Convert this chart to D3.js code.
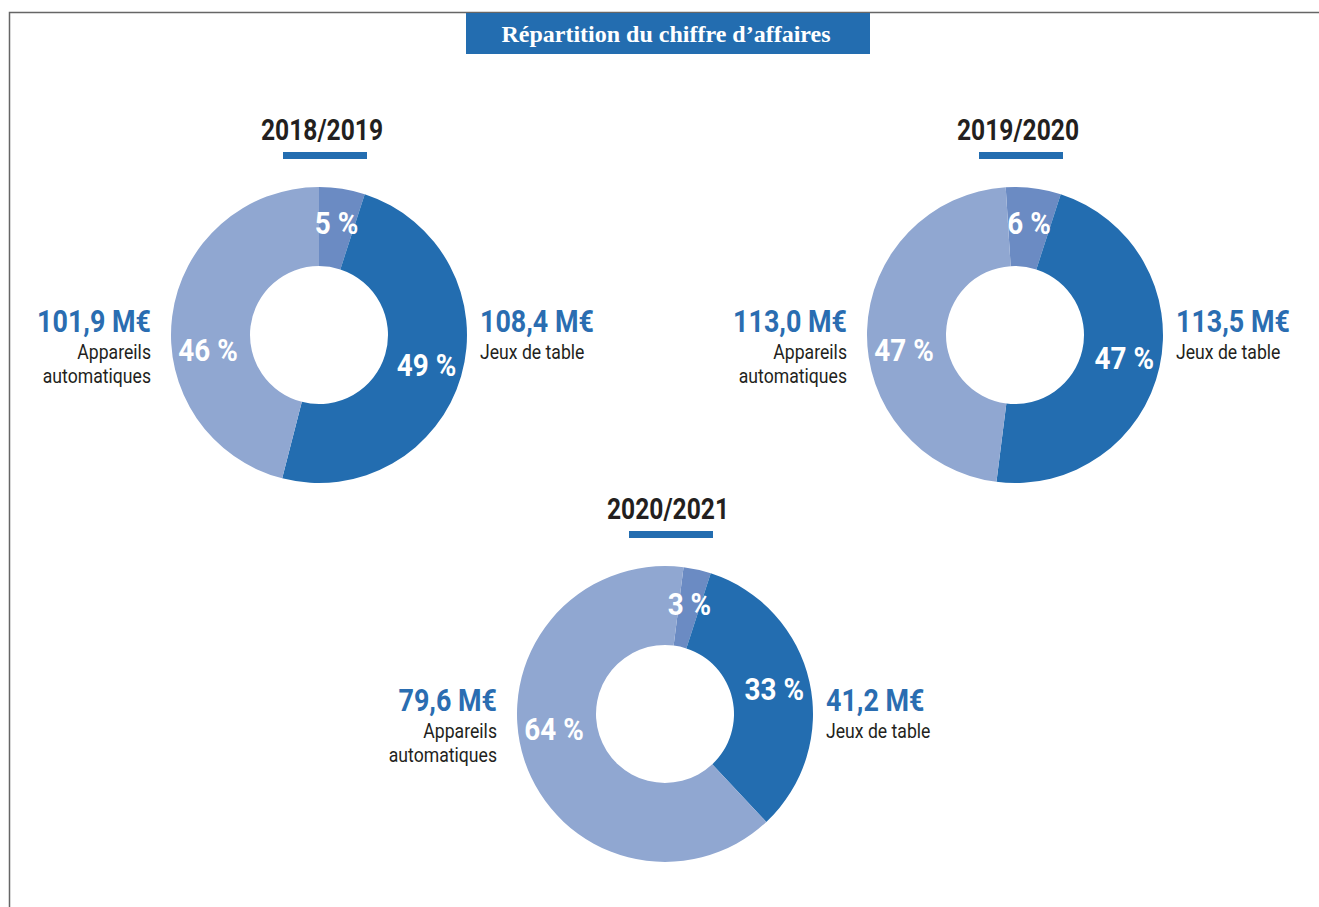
<!DOCTYPE html>
<html>
<head>
<meta charset="utf-8">
<script src="https://cdnjs.cloudflare.com/ajax/libs/d3/7.8.5/d3.min.js"></script>
<style>
  body { margin: 0; background: #fff; }
  .narrow { font-family: "Liberation Sans Narrow", "Roboto", sans-serif; }
</style>
</head>
<body>
<div id="chart"></div>
<script>
// Données
var annees = ["2018/2019", "2019/2020", "2020/2021"];
var pctAutres = [5, 6, 3];
var pctJeux = [49, 47, 33];
var pctAppareils = [46, 47, 64];
var caJeux = ["108,4 M€", "113,5 M€", "41,2 M€"];
var caAppareils = ["101,9 M€", "113,0 M€", "79,6 M€"];
var categories = ["Autres", "Jeux de table", "Appareils automatiques"];

var couleurs = {"Autres": "#6b8bc3", "Jeux de table": "#236db0", "Appareils automatiques": "#90a7d1"};
var bleuTexte = "#2a6db1";

var width = 1319, height = 907;
var centres = [[319, 335], [1015, 335], [665, 714]];
var rIn = 69, rOut = 148;
var ancre = 18 * Math.PI / 180; // début du segment "Jeux de table"
var serre = 0.84; // pas de police condensée installée -> on resserre

var svg = d3.select("#chart").append("svg")
    .attr("width", width)
    .attr("height", height);

// petit utilitaire pour du texte condensé
function texte(parent, x, y, sx) {
    return parent.append("text")
        .attr("class", "narrow")
        .attr("transform", `translate(${x},${y}) scale(${sx || serre},1)`);
}

// cadre
svg.append("path")
    .attr("d", `M9.5,${height} V12.5 H${width}`)
    .attr("fill", "none")
    .attr("stroke", "#666")
    .attr("stroke-width", 1.5);

// titre
svg.append("rect")
    .attr("x", 466).attr("y", 13)
    .attr("width", 404).attr("height", 41)
    .attr("fill", "#236db0");
svg.append("text")
    .attr("x", 666).attr("y", 42)
    .attr("text-anchor", "middle")
    .attr("fill", "#fff")
    .style("font-family", "'Liberation Serif', serif")
    .style("font-weight", "bold")
    .style("font-size", "24px")
    .text("Répartition du chiffre d’affaires");

var arc = d3.arc().innerRadius(rIn).outerRadius(rOut);

annees.forEach(function(annee, i) {
    var data = [
        {cat: categories[0], v: pctAutres[i]},
        {cat: categories[1], v: pctJeux[i]},
        {cat: categories[2], v: pctAppareils[i]}
    ];
    var debut = ancre - pctAutres[i] / 100 * 2 * Math.PI;
    var pie = d3.pie().value(d => d.v).sort(null)
        .startAngle(debut).endAngle(debut + 2 * Math.PI);

    var g = svg.append("g")
        .attr("transform", `translate(${centres[i][0]},${centres[i][1]})`);

    // année + barre
    texte(g, 3, -195, 0.82)
        .attr("text-anchor", "middle")
        .attr("fill", "#231f20")
        .style("font-size", "30px")
        .style("font-weight", "bold")
        .text(annee);
    g.append("rect")
        .attr("x", -36).attr("y", -183)
        .attr("width", 84).attr("height", 7)
        .attr("fill", "#236db0");

    var arcs = pie(data);
    g.selectAll("path.part")
        .data(arcs)
        .enter().append("path")
        .attr("class", "part")
        .attr("d", arc)
        .attr("fill", d => couleurs[d.data.cat]);

    // pourcentages
    var rLab = 112;
    arcs.forEach(function(d) {
        var a = (d.startAngle + d.endAngle) / 2;
        if (d.data.cat == "Appareils automatiques") a = 2 * Math.PI - 98 * Math.PI / 180;
        texte(g, Math.sin(a) * rLab, -Math.cos(a) * rLab + 10, 0.87)
            .attr("text-anchor", "middle")
            .attr("fill", "#fff")
            .style("font-size", "32px")
            .style("font-weight", "bold")
            .text(d.data.v + " %");
    });

    // étiquettes à droite (jeux de table)
    texte(g, 161, -3)
        .attr("fill", bleuTexte)
        .style("font-size", "32px")
        .style("font-weight", "bold")
        .text(caJeux[i]);
    texte(g, 161, 24)
        .attr("fill", "#231f20")
        .style("font-size", "21px")
        .text("Jeux de table");

    // étiquettes à gauche (appareils)
    texte(g, -168, -3)
        .attr("text-anchor", "end")
        .attr("fill", bleuTexte)
        .style("font-size", "32px")
        .style("font-weight", "bold")
        .text(caAppareils[i]);
    texte(g, -168, 24)
        .attr("text-anchor", "end")
        .attr("fill", "#231f20")
        .style("font-size", "21px")
        .text("Appareils");
    texte(g, -168, 48)
        .attr("text-anchor", "end")
        .attr("fill", "#231f20")
        .style("font-size", "21px")
        .text("automatiques");
});
</script>
</body>
</html>
